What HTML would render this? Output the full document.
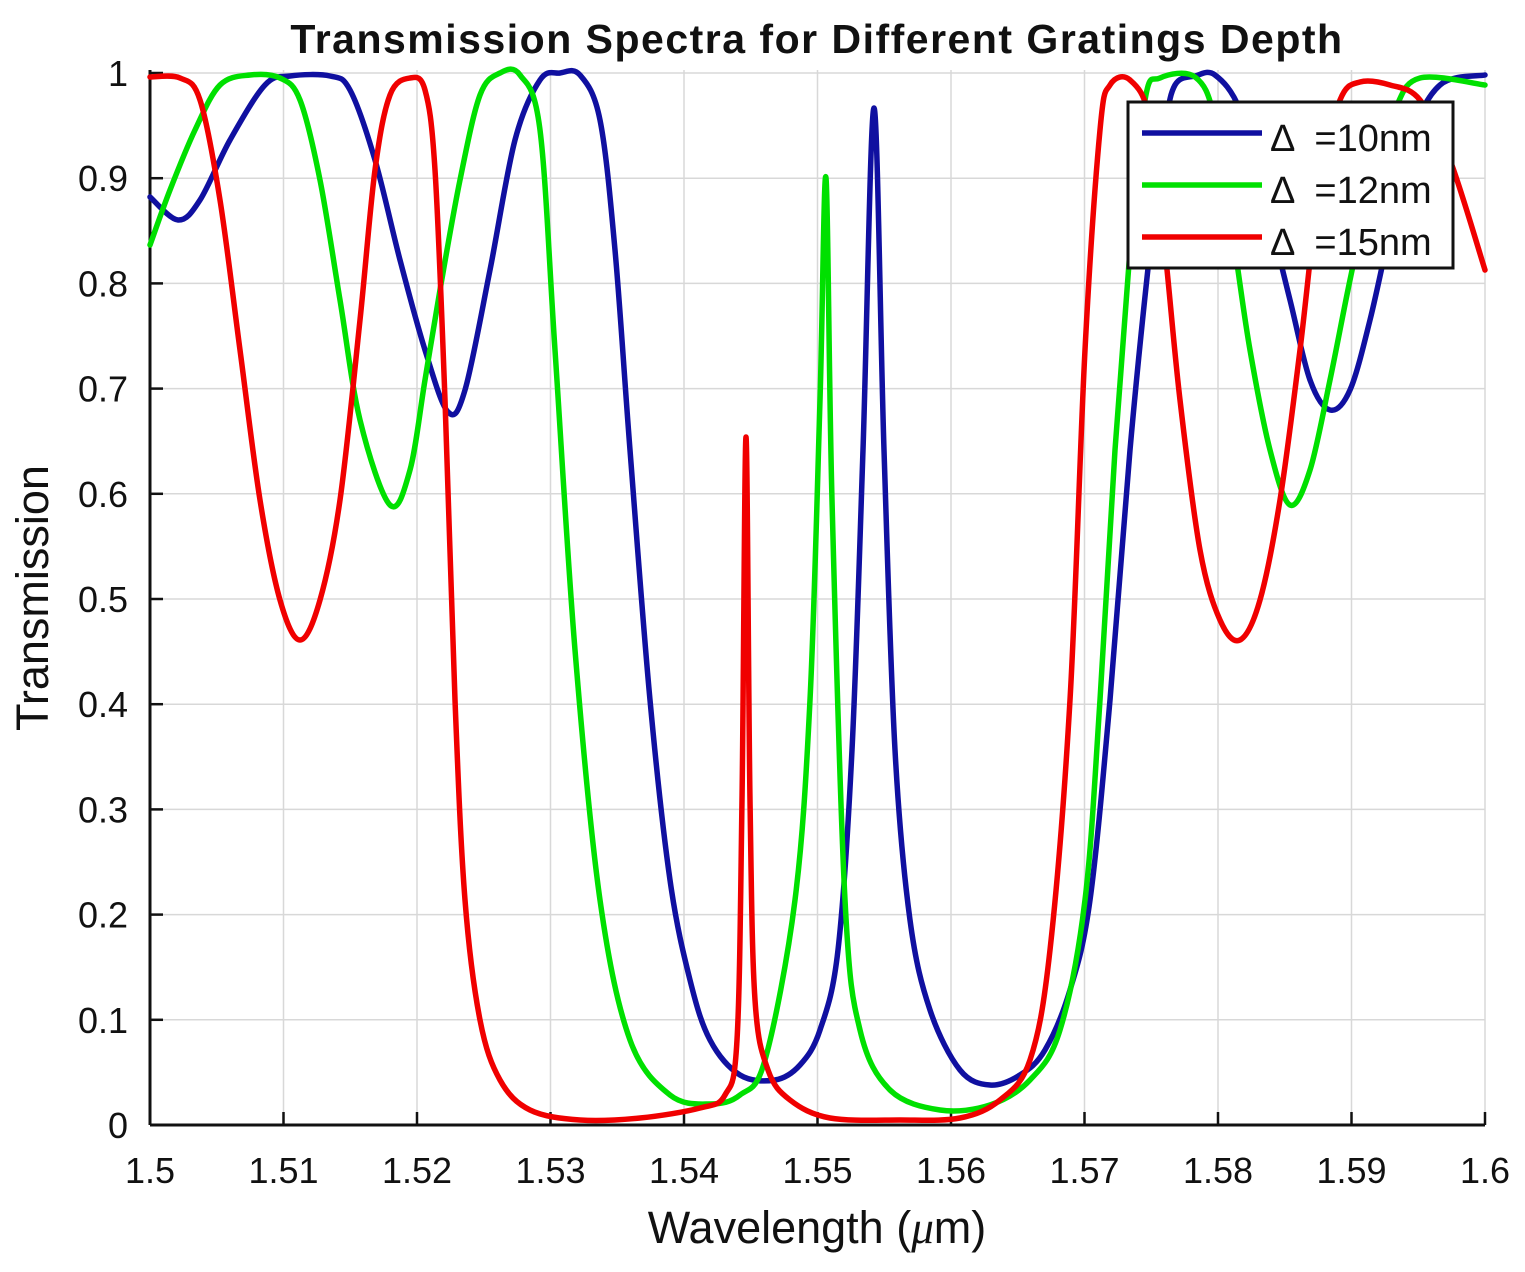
<!DOCTYPE html>
<html><head><meta charset="utf-8"><style>
html,body{margin:0;padding:0;background:#fff}
svg{display:block}
text{font-family:"Liberation Sans",sans-serif;fill:#111}
</style></head><body>
<svg id="s" width="1525" height="1272" viewBox="0 0 1525 1272">
<rect width="1525" height="1272" fill="#fff"/>
<g id="grid" stroke="#d8d8d8" stroke-width="1.5"></g>
<g id="ticks" stroke="#111" stroke-width="2.5"></g>
<line x1="150" y1="70" x2="150" y2="1125" stroke="#111" stroke-width="3"/>
<line x1="150" y1="1125" x2="1485" y2="1125" stroke="#111" stroke-width="3"/>
<g id="curves" fill="none" stroke-width="5.5" stroke-linejoin="round" stroke-linecap="round"></g>
<text x="817" y="53" font-size="41" font-weight="bold" text-anchor="middle" letter-spacing="1.5">Transmission Spectra for Different Gratings Depth</text>
<text transform="translate(48,598) rotate(-90)" font-size="45" text-anchor="middle">Transmission</text>
<text x="817" y="1243" font-size="45" text-anchor="middle">Wavelength (<tspan font-family="Liberation Serif" font-style="italic">μ</tspan>m)</text>
<g id="lab" font-size="36"></g>
<rect x="1128" y="102" width="325" height="166" fill="#fff" stroke="#111" stroke-width="3"/>
<line x1="1142" y1="133" x2="1262" y2="133" stroke="#1010a0" stroke-width="5.5"/>
<line x1="1142" y1="185" x2="1262" y2="185" stroke="#00e000" stroke-width="5.5"/>
<line x1="1142" y1="237" x2="1262" y2="237" stroke="#f00000" stroke-width="5.5"/>
<text x="1270" y="151" font-size="38" xml:space="preserve">Δ  =10nm</text>
<text x="1270" y="203" font-size="38" xml:space="preserve">Δ  =12nm</text>
<text x="1270" y="255" font-size="38" xml:space="preserve">Δ  =15nm</text>
</svg>
<script>
var NS="http://www.w3.org/2000/svg";
function el(p,t,a){var e=document.createElementNS(NS,t);for(var k in a)e.setAttribute(k,a[k]);document.getElementById(p).appendChild(e);return e;}
for(var i=0;i<=10;i++){var x=150+i*133.5,y=1125-i*105.2;
 if(i>0){el("grid","line",{x1:x,y1:70,x2:x,y2:1125});el("grid","line",{x1:150,y1:y,x2:1485,y2:y});}
 el("ticks","line",{x1:x,y1:1125,x2:x,y2:1112});el("ticks","line",{x1:150,y1:y,x2:163,y2:y});
 var xl=["1.5","1.51","1.52","1.53","1.54","1.55","1.56","1.57","1.58","1.59","1.6"][i];
 var t=el("lab","text",{x:x,y:1183,"text-anchor":"middle"});t.textContent=xl;
 var yl=i==0?"0":i==10?"1":"0."+i;
 t=el("lab","text",{x:128,y:y+13,"text-anchor":"end"});t.textContent=yl;}
function path(pts,c){var d="M"+pts[0][0]+","+pts[0][1];
 for(var i=0;i<pts.length-1;i++){var p0=pts[i-1]||pts[i],p1=pts[i],p2=pts[i+1],p3=pts[i+2]||p2;
  d+=" C"+(p1[0]+(p2[0]-p0[0])/6)+","+(p1[1]+(p2[1]-p0[1])/6)+" "+(p2[0]-(p3[0]-p1[0])/6)+","+(p2[1]-(p3[1]-p1[1])/6)+" "+p2[0]+","+p2[1];}
 el("curves","path",{d:d,stroke:c});}
var B=[[150,197],[178,220],[200,200],[230,140],[265,85],[290,76],[330,76],[350,90],[375,160],[400,260],[425,350],[448,412],[465,390],[490,270],[515,140],[540,80],[560,73],[580,75],[600,120],[615,250],[630,450],[650,700],[670,880],[690,980],[710,1040],[740,1075],[775,1080],[800,1065],[820,1030],[838,950],[852,750],[863,450],[874,108],[884,450],[895,750],[910,920],[930,1010],[960,1070],[990,1085],[1020,1075],[1045,1050],[1070,990],[1090,900],[1110,700],[1130,450],[1150,250],[1165,130],[1175,85],[1195,76],[1215,75],[1240,110],[1265,200],[1290,300],[1310,380],[1330,410],[1350,390],[1370,320],[1390,230],[1410,140],[1440,85],[1485,75]];
var G=[[150,245],[170,190],[195,130],[220,85],[250,75],[280,78],[300,100],[320,180],[340,300],[360,420],[390,505],[410,470],[425,380],[440,290],[460,180],[480,95],[500,73],[520,75],[540,130],[555,350],[575,650],[600,900],[630,1040],[670,1095],[710,1104],[740,1095],[765,1060],[795,900],[810,700],[820,400],[826,178],[832,500],[845,900],[860,1030],[890,1090],[940,1110],[990,1105],[1030,1080],[1060,1030],[1085,900],[1100,700],[1115,450],[1130,250],[1145,100],[1160,78],[1195,77],[1215,120],[1235,250],[1250,350],[1270,450],[1290,505],[1310,470],[1330,380],[1350,280],[1370,190],[1395,110],[1420,78],[1485,85]];
var R=[[150,77],[180,78],[200,100],[220,200],[240,350],[260,500],[280,600],[300,640],[320,600],[340,500],[360,320],[375,170],[390,95],[410,78],[425,90],[435,170],[445,400],[455,700],[465,900],[480,1020],[500,1080],[530,1110],[580,1120],[640,1118],[700,1108],[725,1095],[737,1040],[742,800],[746,437],[750,800],[755,1000],[768,1070],[790,1100],[830,1118],[900,1120],[960,1118],[1000,1100],[1030,1060],[1050,950],[1070,700],[1085,350],[1100,130],[1110,85],[1130,80],[1150,120],[1165,250],[1180,400],[1200,550],[1220,620],[1240,640],[1260,600],[1280,500],[1300,350],[1320,180],[1340,100],[1360,82],[1390,85],[1420,100],[1450,160],[1485,270]];
path(B,"#1010a0");path(G,"#00e000");path(R,"#f00000");
</script>
</body></html>
